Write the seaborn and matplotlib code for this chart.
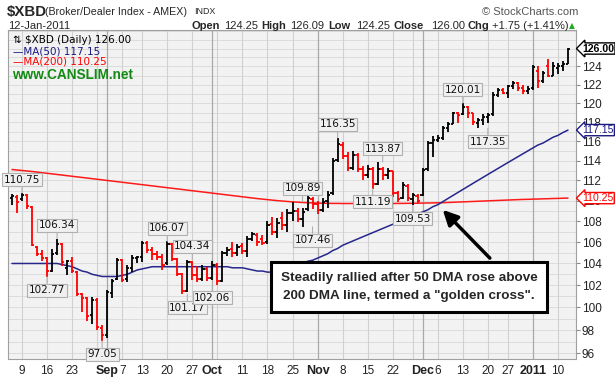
import pandas as pd
import seaborn as sns
import matplotlib
import matplotlib.pyplot as plt
from matplotlib import font_manager
from matplotlib.ticker import NullLocator

matplotlib.use('Agg')
sns.set_style("white")
plt.rcParams['font.family'] = ['Liberation Sans', 'DejaVu Sans']

try:
    font_manager.findfont('Liberation Sans Narrow', fallback_to_default=False)
    NARROW, SHRINK = 'Liberation Sans Narrow', 1.0
except ValueError:
    NARROW, SHRINK = 'Liberation Sans', 0.8

W, H = 615, 379

# trading days shown (NYSE holidays removed)
holidays = ['2010-09-06', '2010-11-25', '2010-12-24']
dates = pd.bdate_range('2010-08-05', '2011-01-12')
dates = dates[~dates.isin(pd.to_datetime(holidays))]

opens = [110.3, 110.4, 110.2, 110.6, 109.4, 105.5, 104.9, 104.5, 103.3, 105.0,
         105.8, 103.6, 104.2, 103.2, 101.2, 100.8, 99.3, 100.7, 98.2, 97.6,
         101.3, 102.6, 104.3, 102.6, 103.6, 104.5, 104.6, 105.9, 105.3, 104.9,
         104.6, 104.0, 105.8, 104.4, 103.0, 101.5, 104.1, 102.9, 102.6, 103.5,
         102.7, 103.9, 102.4, 105.0, 105.4, 105.0, 105.6, 105.2, 106.3, 106.7,
         106.3, 106.0, 107.7, 107.0, 108.3, 107.6, 108.8, 109.0, 108.2, 109.2,
         110.2, 109.7, 109.1, 110.0, 110.8, 114.1, 115.6, 114.5, 113.3, 114.6,
         113.2, 112.5, 113.2, 111.6, 113.2, 112.5, 112.9, 110.8, 110.3, 111.4,
         110.2, 110.5, 110.6, 113.2, 115.8, 116.1, 116.3, 117.4, 117.8, 119.0,
         118.8, 119.6, 118.9, 117.9, 118.2, 118.5, 118.8, 120.9, 121.4, 121.1,
         121.8, 122.2, 121.6, 121.3, 121.6, 123.5, 122.4, 124.0, 123.0, 123.8,
         124.1, 124.25]
highs = [110.7, 110.6, 110.75, 110.65, 109.5, 105.6, 105.3, 104.6, 105.4, 106.34,
         105.9, 104.3, 104.6, 103.3, 101.3, 100.9, 100.9, 100.8, 98.4, 101.6,
         102.6, 104.5, 104.4, 103.9, 104.8, 104.7, 106.1, 106.1, 105.5, 105.2,
         104.9, 106.07, 105.9, 104.5, 103.1, 104.34, 104.2, 103.8, 103.9, 103.7,
         104.2, 104.0, 105.2, 105.5, 106.0, 105.8, 105.9, 106.6, 107.0, 106.9,
         106.7, 108.0, 108.4, 108.3, 108.9, 109.2, 109.89, 109.3, 109.3, 110.6,
         110.4, 110.0, 110.3, 111.0, 114.3, 116.35, 115.9, 114.9, 115.0, 114.8,
         113.5, 113.6, 113.4, 113.87, 113.4, 113.3, 113.0, 111.0, 111.8, 111.6,
         110.8, 110.7, 113.3, 116.0, 116.5, 116.6, 117.6, 118.0, 119.1, 119.1,
         120.01, 119.7, 119.0, 118.4, 118.8, 119.0, 121.2, 121.6, 121.6, 122.0,
         122.4, 122.3, 122.0, 121.8, 124.2, 124.0, 123.5, 124.8, 124.5, 124.4,
         124.6, 126.09]
lows = [109.6, 108.8, 110.0, 109.2, 105.6, 104.7, 104.2, 102.77, 103.2, 104.8,
        103.8, 102.9, 103.1, 101.0, 99.6, 98.8, 98.5, 98.0, 97.05, 97.3,
        100.8, 102.5, 102.3, 102.3, 103.2, 104.0, 104.1, 105.0, 104.3, 104.3,
        103.4, 103.9, 104.2, 102.8, 101.17, 101.4, 102.5, 102.3, 102.4, 102.4,
        102.5, 102.06, 102.3, 104.7, 104.6, 104.7, 104.9, 104.6, 106.1, 105.6,
        105.7, 105.8, 106.7, 106.4, 107.2, 107.0, 108.0, 107.9, 107.46, 109.0,
        109.2, 108.7, 108.9, 109.3, 110.6, 113.9, 114.2, 112.9, 113.1, 112.8,
        112.0, 112.2, 111.19, 111.5, 112.0, 112.1, 110.4, 109.9, 110.2, 110.0,
        109.53, 109.8, 110.5, 113.0, 114.4, 115.9, 116.1, 117.0, 117.8, 117.9,
        118.7, 118.4, 117.7, 117.35, 117.7, 117.9, 118.6, 120.7, 121.0, 120.6,
        121.5, 121.3, 121.0, 121.0, 121.4, 121.6, 122.2, 122.8, 122.9, 123.2,
        123.5, 124.25]
closes = [110.5, 109.9, 110.6, 109.5, 105.7, 104.9, 104.5, 103.3, 104.9, 105.8,
          104.1, 104.2, 103.3, 101.2, 100.8, 99.2, 100.7, 98.3, 97.6, 101.4,
          102.4, 104.3, 102.5, 103.6, 104.5, 104.6, 105.9, 105.3, 104.9, 104.6,
          103.9, 105.8, 104.4, 103.0, 101.5, 104.1, 102.9, 102.6, 103.5, 102.7,
          103.9, 102.4, 105.0, 105.3, 105.0, 105.5, 105.2, 106.3, 106.8, 106.0,
          105.9, 107.6, 107.0, 107.8, 107.6, 108.8, 109.0, 108.2, 108.9, 110.3,
          109.7, 109.1, 109.9, 110.6, 114.0, 115.7, 114.5, 113.3, 114.6, 113.2,
          112.5, 113.2, 111.6, 113.2, 112.5, 112.9, 110.8, 110.2, 111.5, 110.3,
          110.6, 110.0, 113.1, 115.8, 116.1, 116.3, 117.4, 117.8, 118.9, 118.7,
          119.6, 118.9, 118.0, 118.2, 118.5, 118.7, 120.9, 121.4, 121.1, 121.8,
          122.2, 121.6, 121.3, 121.5, 123.9, 122.4, 123.3, 123.0, 124.0, 124.1,
          124.25, 126.00]
ma50 = [104.0, 104.0, 104.0, 104.0, 104.0, 104.0, 104.0, 104.0, 104.0, 104.0,
        103.9, 103.8, 103.7, 103.5, 103.3, 103.2, 103.0, 102.9, 102.8, 102.8,
        102.8, 102.8, 102.9, 103.0, 103.2, 103.4, 103.5, 103.6, 103.7, 103.7,
        103.7, 103.7, 103.7, 103.7, 103.7, 103.7, 103.7, 103.7, 103.7, 103.7,
        103.7, 103.7, 103.7, 103.7, 103.6, 103.6, 103.6, 103.5, 103.4, 103.3,
        103.3, 103.2, 103.2, 103.3, 103.4, 103.5, 103.7, 103.8, 104.0, 104.2,
        104.3, 104.5, 104.7, 104.9, 105.2, 105.4, 105.7, 105.9, 106.1, 106.3,
        106.5, 106.7, 106.9, 107.1, 107.3, 107.5, 107.7, 107.9, 108.1, 108.3,
        108.5, 108.7, 108.9, 109.1, 109.4, 109.6, 109.9, 110.2, 110.5, 110.8,
        111.1, 111.4, 111.7, 112.0, 112.3, 112.6, 112.9, 113.2, 113.5, 113.8,
        114.1, 114.4, 114.7, 115.0, 115.3, 115.6, 115.8, 116.1, 116.4, 116.6,
        116.9, 117.15]
ma200 = [113.10, 113.05, 113.00, 112.95, 112.90, 112.84, 112.78, 112.72, 112.66, 112.60,
         112.54, 112.48, 112.42, 112.36, 112.30, 112.24, 112.18, 112.12, 112.06, 112.00,
         111.94, 111.88, 111.82, 111.76, 111.70, 111.64, 111.58, 111.52, 111.46, 111.40,
         111.34, 111.28, 111.22, 111.16, 111.10, 111.04, 110.98, 110.92, 110.86, 110.80,
         110.74, 110.68, 110.62, 110.56, 110.50, 110.44, 110.38, 110.32, 110.26, 110.20,
         110.15, 110.10, 110.05, 110.00, 109.96, 109.92, 109.88, 109.85, 109.82, 109.80,
         109.78, 109.76, 109.75, 109.74, 109.73, 109.73, 109.72, 109.72, 109.72, 109.72,
         109.72, 109.72, 109.72, 109.72, 109.72, 109.72, 109.72, 109.73, 109.73, 109.74,
         109.74, 109.75, 109.76, 109.77, 109.78, 109.79, 109.80, 109.82, 109.84, 109.86,
         109.88, 109.90, 109.92, 109.94, 109.96, 109.98, 110.00, 110.02, 110.04, 110.06,
         110.08, 110.10, 110.12, 110.13, 110.15, 110.16, 110.18, 110.19, 110.21, 110.22,
         110.24, 110.25]

# swing point labels
swing_dates = ['2010-08-09', '2010-08-18', '2010-08-16', '2010-08-31', '2010-09-20',
               '2010-09-24', '2010-09-27', '2010-10-01', '2010-10-27', '2010-10-29',
               '2010-11-05', '2010-11-16', '2010-11-18', '2010-11-29', '2010-12-13',
               '2010-12-20']
swing_values = [110.75, 106.34, 102.77, 97.05, 106.07, 101.17, 104.34, 102.06, 109.89,
                107.46, 116.35, 111.19, 113.87, 109.53, 120.01, 117.35]
swing_side = ['hi', 'hi', 'lo', 'lo', 'hi', 'lo', 'hi', 'lo', 'hi', 'lo', 'hi', 'lo',
              'hi', 'lo', 'hi', 'lo']

x_label_dates = ['2010-08-09', '2010-08-16', '2010-08-23', '2010-09-01', '2010-09-07',
                 '2010-09-13', '2010-09-20', '2010-09-27', '2010-10-01', '2010-10-11',
                 '2010-10-18', '2010-10-25', '2010-11-01', '2010-11-08', '2010-11-15',
                 '2010-11-22', '2010-12-01', '2010-12-06', '2010-12-13', '2010-12-20',
                 '2010-12-27', '2011-01-03', '2011-01-10']
x_labels = ['9', '16', '23', 'Sep', '7', '13', '20', '27', 'Oct', '11', '18', '25',
            'Nov', '8', '15', '22', 'Dec', '6', '13', '20', '27', '2011', '10']

df = pd.DataFrame({'date': dates, 'open': opens, 'high': highs, 'low': lows,
                   'close': closes, 'ma50': ma50, 'ma200': ma200})
df['i'] = range(len(df))
up = df['close'] >= df['close'].shift(1).fillna(df['open'])
df['color'] = ['#000000' if u else '#ff0000' for u in up]
pos = {d: i for i, d in enumerate(df['date'])}

fig = plt.figure(figsize=(W / 100, H / 100), dpi=100)
fig.patch.set_facecolor('white')
ax = fig.add_axes([8 / W, 1 - 359 / H, (576 - 8) / W, (359 - 30) / H])
ax.set_facecolor('#f2f2f2')
ax.set_yscale('log')

# grid: 1 point horizontal, weekly + monthly vertical
for v in range(96, 129):
    ax.axhline(v, color='#dcdcdc', lw=0.7, zorder=0)
week = df['date'].dt.weekday.diff().fillna(-1) < 0
month = df['date'].dt.month.diff().fillna(1) != 0
for i in df['i'][week & ~month]:
    ax.axvline(i, color='#d0d0d0', lw=0.8, zorder=0)
for i in df['i'][month & (df['i'] > 0)]:
    ax.axvline(i, color='#a9a9a9', lw=0.9, zorder=0)

sns.lineplot(data=df, x='i', y='ma200', ax=ax, color='#ff1a1a', lw=1.1, zorder=2)
sns.lineplot(data=df, x='i', y='ma50', ax=ax, color='#26268c', lw=1.1, zorder=2)

ax.vlines(df['i'], df['low'], df['high'], colors=df['color'], lw=1.3, zorder=3)
ax.hlines(df['open'], df['i'] - 0.45, df['i'], colors=df['color'], lw=1.3, zorder=3)
ax.hlines(df['close'], df['i'], df['i'] + 0.45, colors=df['color'], lw=1.3, zorder=3)

for d, v, s in zip(swing_dates, swing_values, swing_side):
    off = 6 if s == 'hi' else -6
    ax.annotate(f'{v:.2f}', xy=(pos[pd.Timestamp(d)], v), xytext=(0, off),
                textcoords='offset points', ha='center', family='DejaVu Sans',
                va='bottom' if s == 'hi' else 'top', fontsize=7.5, color='#111111',
                bbox=dict(boxstyle='square,pad=0.15', fc='#f0f0f0', ec='#b0b0b0', lw=0.8),
                arrowprops=dict(arrowstyle='-', color='#b0b0b0', lw=0.8,
                                shrinkA=0, shrinkB=0), zorder=4)

ax.set_xlim(-0.8, 112.6)
ax.set_ylim(95.5, 128.1)
ax.set_xlabel('')
ax.set_ylabel('')
ax.yaxis.tick_right()
ax.yaxis.set_minor_locator(NullLocator())
ax.set_yticks(range(96, 126, 2))
ax.set_yticklabels([str(v) for v in range(96, 126, 2)], fontsize=8.5, color='#222222')
ax.set_xticks([pos[pd.Timestamp(d)] for d in x_label_dates])
ax.set_xticks(df['i'], minor=True)
ax.set_xticklabels(x_labels, fontsize=8.5, color='#222222')
for t in ax.get_xticklabels():
    if not t.get_text().isdigit() or t.get_text() == '2011':
        t.set_fontweight('bold')
        t.set_fontsize(9)
ax.tick_params(axis='y', length=3, pad=1, color='#888888')
ax.tick_params(axis='x', which='major', length=3, pad=1.5, color='#888888')
ax.tick_params(axis='x', which='minor', length=1.5, color='#999999')
for sp in ax.spines.values():
    sp.set_color('#a0a0a0')
    sp.set_linewidth(0.8)

# last-value tags on the right
tr = ax.get_yaxis_transform()
for val, col, bold in [(closes[-1], '#000000', 'bold'), (ma50[-1], '#1a1a80', 'normal'),
                       (ma200[-1], '#ff0000', 'normal')]:
    ax.text(1.011, val, f'{val:.2f}', transform=tr, va='center', ha='left',
            fontsize=9.5 * SHRINK, color=col, fontweight=bold, zorder=6, family=NARROW,
            bbox=dict(boxstyle='larrow,pad=0.06', fc='white', ec=col, lw=1.0))

# legend block
ax.text(0.008, 0.970, '\u21c5 $XBD (Daily) 126.00', transform=ax.transAxes,
        fontsize=7.5, va='center', color='#000000', family='DejaVu Sans')
ax.text(0.008, 0.936, '\u2014MA(50) 117.15', transform=ax.transAxes,
        fontsize=7.5, va='center', color='#1a1a80', family='DejaVu Sans')
ax.text(0.008, 0.903, '\u2014MA(200) 110.25', transform=ax.transAxes,
        fontsize=7.5, va='center', color='#ff0000', family='DejaVu Sans')
ax.text(0.007, 0.864, 'www.CANSLIM.net', transform=ax.transAxes,
        fontsize=9.8, va='center', color='#138a13', fontweight='bold')

# comment box with arrow
ax.text(0.706, 0.219, 'Steadily rallied after 50 DMA rose above\n'
        '200 DMA line, termed a "golden cross".', transform=ax.transAxes,
        fontsize=9.7, fontweight='bold', ha='center', va='center', linespacing=1.65,
        zorder=7,
        bbox=dict(boxstyle='square,pad=0.72', fc='white', ec='black', lw=2.2))
ax.annotate('', xy=(86.0, 109.1), xytext=(95.4, 104.5),
            arrowprops=dict(arrowstyle='-|>,head_length=0.9,head_width=0.45',
                            color='black', lw=2.5, shrinkA=0, shrinkB=0), zorder=6)


# header
def fx(x):
    return x / W


def fy(y):
    return 1 - y / H


fig.text(fx(7), fy(12), '$XBD', fontsize=13.5 * SHRINK, fontweight='bold', va='center',
         family=NARROW)
fig.text(fx(45), fy(12), '(Broker/Dealer Index - AMEX)', fontsize=9.6 * SHRINK,
         va='center', family=NARROW)
fig.text(fx(194), fy(12), 'INDX', fontsize=8 * SHRINK, va='center', family=NARROW)
fig.text(fx(578), fy(12), '\u00a9 StockCharts.com', fontsize=8, va='center', ha='right',
         color='#555555')
fig.text(fx(8), fy(26), '12-Jan-2011', fontsize=8, va='center')
header = [(191, 'Open', 'bold'), (224, '124.25', 'normal'), (261, 'High', 'bold'),
          (290, '126.09', 'normal'), (328, 'Low', 'bold'), (356, '124.25', 'normal'),
          (394, 'Close', 'bold'), (431, '126.00', 'normal'), (468, 'Chg', 'bold'),
          (492, '+1.75 (+1.41%)', 'normal')]
for x, s, w in header:
    fig.text(fx(x), fy(26), s, fontsize=8, fontweight=w, va='center')
fig.text(fx(569), fy(26), '\u25b2', fontsize=5.5, va='center', color='#22aa22',
         family='DejaVu Sans')

fig.savefig('out.png', dpi=100)
